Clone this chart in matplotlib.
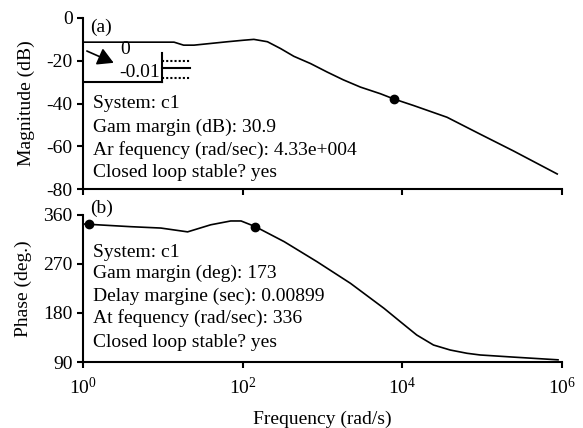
import numpy as np
import matplotlib
matplotlib.use("Agg")
import matplotlib.pyplot as plt

plt.rcParams['font.family'] = ['Liberation Serif', 'DejaVu Serif']
plt.rcParams['mathtext.fontset'] = 'custom'
plt.rcParams['mathtext.rm'] = 'Liberation Serif'
plt.rcParams['mathtext.it'] = 'Liberation Serif'

# magnitude curve (log10 of rad/s, dB)
mag_logf = [0.0, 0.975, 1.14, 1.26, 1.39, 1.6, 1.81, 2.01, 2.14, 2.31, 2.475, 2.64,
            2.85, 3.06, 3.26, 3.475, 3.725, 3.89, 4.14, 4.56, 4.975, 5.39, 5.94]
mag_db = [-11.3, -11.3, -11.3, -12.7, -12.7, -11.9, -11.1, -10.4, -10.0, -11.1, -14.3, -17.9,
          -21.3, -25.3, -28.9, -32.3, -35.4, -37.8, -40.9, -46.4, -54.3, -62.1, -72.9]
mag_pt_logf = [3.89]
mag_pt_db = [-37.8]

# phase curve (log10 of rad/s, deg)
ph_logf = [0.0, 0.6, 0.975, 1.31, 1.6, 1.85, 1.98, 2.16, 2.52, 2.93, 3.35, 3.77,
           3.975, 4.18, 4.39, 4.6, 4.81, 4.975, 5.39, 5.95]
ph_deg = [343.5, 338.5, 336, 329, 342, 349, 349, 338.5, 311, 274.3, 234.5, 188.6,
          164, 139.6, 121.2, 112, 106, 102.9, 99, 94]
ph_pt_logf = [0.075, 2.16]
ph_pt_deg = [343.5, 338.5]

mag_text = ["System: c1", "Gam margin (dB): 30.9",
            "Ar fequency (rad/sec): 4.33e+004", "Closed loop stable? yes"]
ph_text = ["System: c1", "Gam margin (deg): 173", "Delay margine (sec): 0.00899",
           "At fequency (rad/sec): 336", "Closed loop stable? yes"]

fs = 14
fig = plt.figure(figsize=(5.83, 4.28), dpi=100)
ax1 = fig.add_axes([0.1424, 0.558, 0.8216, 0.4])
ax2 = fig.add_axes([0.1424, 0.1542, 0.8216, 0.3435])

for ax in (ax1, ax2):
    ax.set_xscale('log')
    ax.set_xlim(1, 1e6)
    ax.set_xticks([1, 1e2, 1e4, 1e6])
    ax.minorticks_off()
    ax.spines['top'].set_visible(False)
    ax.spines['right'].set_visible(False)
    ax.spines['left'].set_linewidth(1.5)
    ax.spines['bottom'].set_linewidth(1.5)
    ax.tick_params(direction='out', length=4.5, width=1.5, labelsize=fs, pad=3)

ax1.plot(10 ** np.array(mag_logf), mag_db, color='black', lw=1.2)
ax1.plot(10 ** np.array(mag_pt_logf), mag_pt_db, 'o', color='black', ms=6)
ax1.set_ylim(-80, 0)
ax1.set_yticks([0, -20, -40, -60, -80])
ax1.set_yticklabels(['0', '-20', '-40', '-60', '-80'])
ax1.set_xticklabels([])
ax1.set_ylabel('Magnitude (dB)', fontsize=fs, labelpad=8)

ax2.plot(10 ** np.array(ph_logf), ph_deg, color='black', lw=1.2)
ax2.plot(10 ** np.array(ph_pt_logf), ph_pt_deg, 'o', color='black', ms=6, clip_on=False)
ax2.set_ylim(90, 360)
ax2.set_yticks([90, 180, 270, 360])
ax2.set_xticklabels(['$10^{0}$', '$10^{2}$', '$10^{4}$', '$10^{6}$'])
ax2.tick_params(axis='x', pad=6)
ax2.set_ylabel('Phase (deg.)', fontsize=fs, labelpad=8)
ax2.set_xlabel('Frequency (rad/s)', fontsize=fs, labelpad=9)

# panel labels
ax1.text(0.015, 0.945, '(a)', transform=ax1.transAxes, fontsize=fs, va='center')
ax2.text(0.015, 1.045, '(b)', transform=ax2.transAxes, fontsize=fs, va='center',
         clip_on=False)

# text blocks
for s, fy in zip(mag_text, [0.503, 0.363, 0.228, 0.099]):
    ax1.text(0.021, fy, s, transform=ax1.transAxes, fontsize=fs, va='center')
for s, fy in zip(ph_text, [0.748, 0.605, 0.449, 0.299, 0.136]):
    ax2.text(0.021, fy, s, transform=ax2.transAxes, fontsize=fs, va='center')

# small inset box in panel (a)
tr = ax1.transAxes
ax1.plot([0, 0.165], [0.626, 0.626], color='black', lw=1.5, transform=tr)
ax1.plot([0.165, 0.165], [0.626, 0.795], color='black', lw=1.5, transform=tr)
ax1.plot([0.165, 0.223], [0.749, 0.749], color='black', lw=1.5, ls=(0, (1, 1)), transform=tr)
ax1.plot([0.165, 0.223], [0.708, 0.708], color='black', lw=1.5, transform=tr)
ax1.plot([0.165, 0.223], [0.649, 0.649], color='black', lw=1.5, ls=(0, (1, 1)), transform=tr)
ax1.annotate('', xy=(0.064, 0.738), xytext=(0.008, 0.807), xycoords=tr, textcoords=tr,
             arrowprops=dict(arrowstyle='-|>,head_length=0.8,head_width=0.45',
                             color='black', lw=1.2, mutation_scale=12,
                             shrinkA=0, shrinkB=0))
ax1.text(0.078, 0.815, '0', transform=tr, fontsize=fs, va='center')
ax1.text(0.075, 0.684, '-0.01', transform=tr, fontsize=fs, va='center')

fig.savefig('out.png', dpi=100)
